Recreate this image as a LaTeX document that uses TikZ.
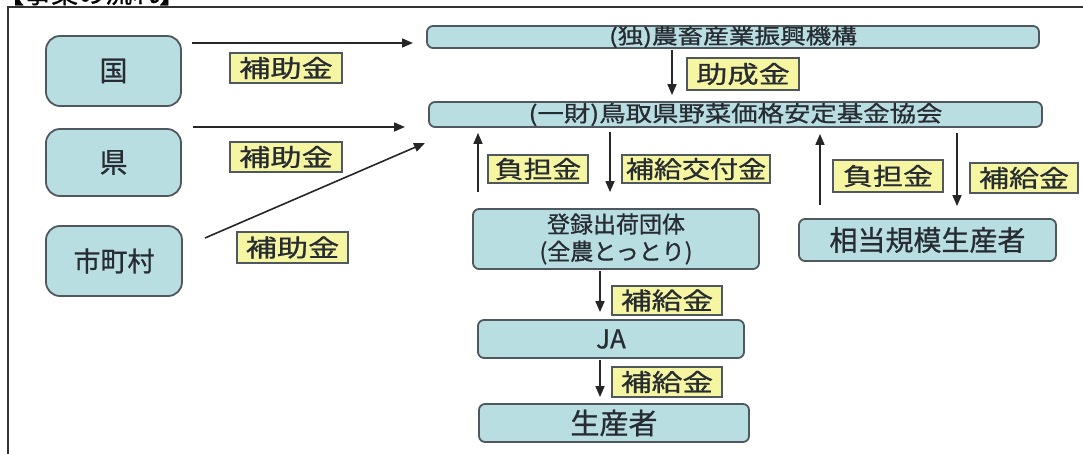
\documentclass[tikz,border=0pt]{standalone}
\usepackage{fontspec}
\usepackage{graphicx}
\newfontfamily\jp[FakeBold=0.8]{Noto Sans CJK JP}
\usetikzlibrary{arrows.meta}
\definecolor{boxfill}{RGB}{184,222,226}
\definecolor{boxline}{RGB}{78,88,94}
\definecolor{labfill}{RGB}{246,246,162}
\definecolor{txt}{RGB}{38,44,50}
\newcommand\fs[1]{\fontsize{#1}{#1}\selectfont}
\newcommand\sx[2]{\scalebox{#1}[1]{#2}}
\begin{document}
\begin{tikzpicture}[x=1pt,y=-1pt,
  box/.style={draw=boxline,line width=1.8pt,fill=boxfill,rounded corners=6pt,inner sep=0pt,text=txt,font=\jp},
  bigbox/.style={box,rounded corners=14pt},
  lab/.style={draw=boxline,line width=1.2pt,fill=labfill,inner sep=0pt,text=txt,font=\jp\fs{24}},
  arr/.style={line width=1.6pt,draw=black!85,-{Triangle[length=11pt,width=9pt]}}]
\useasboundingbox (0,0) rectangle (1083,454);
\clip (0,0) rectangle (1083,454);
% title (cut off at the top, as in the reference) and frame
\node[anchor=base west,inner sep=0pt,font=\jp\fs{27},text=black] (title) at (-3,3) {【事業の流れ】};
\draw[line width=2.5pt,black!80] (8,454) -- (8,7) -- (1083,7);
% boxes
\node[bigbox,minimum width=135pt,minimum height=70pt] (kuni) at (113.5,71) {\fs{28}国};
\node[bigbox,minimum width=135pt,minimum height=67pt] (ken) at (113.5,162.5) {\fs{28}県};
\node[bigbox,minimum width=136pt,minimum height=70pt] (shi) at (114,261) {\fs{27}市町村};
\node[box,minimum width=612pt,minimum height=22pt] (dok) at (733,37) {\fs{21}\sx{1.22}{(独)農畜産業振興機構}};
\node[box,minimum width=613pt,minimum height=25pt] (ichi) at (735.5,114.5) {\fs{22}\sx{1.2}{(一財)鳥取県野菜価格安定基金協会}};
\node[box,minimum width=286pt,minimum height=60pt,align=center] (toroku) at (616,239) {\fs{23}登録出荷団体\\[5pt]\fs{23}(全農とっとり)};
\node[box,minimum width=257pt,minimum height=42pt] (soto) at (927.5,240) {\fs{28}相当規模生産者};
\node[box,minimum width=266pt,minimum height=38pt] (ja) at (611,339) {\fs{26}JA};
\node[box,minimum width=270pt,minimum height=38pt] (seisan) at (614,423) {\fs{29}生産者};
% labels
\node[lab,minimum width=112pt,minimum height=30pt] (l1) at (286,68) {\sx{1.3}{補助金}};
\node[lab,minimum width=112pt,minimum height=30pt] (l2) at (286,157) {\sx{1.3}{補助金}};
\node[lab,minimum width=111pt,minimum height=31pt] (l3) at (292.5,247.5) {\sx{1.3}{補助金}};
\node[lab,minimum width=112pt,minimum height=32pt] (l4) at (743,74) {\sx{1.3}{助成金}};
\node[lab,minimum width=100pt,minimum height=28pt] (l5) at (538,169) {\sx{1.2}{負担金}};
\node[lab,minimum width=148pt,minimum height=28pt] (l6) at (696,169) {\sx{1.17}{補給交付金}};
\node[lab,minimum width=110pt,minimum height=32pt] (l7) at (888,176) {\sx{1.25}{負担金}};
\node[lab,minimum width=108pt,minimum height=30pt] (l8) at (1024,178) {\sx{1.25}{補給金}};
\node[lab,minimum width=110pt,minimum height=29pt] (l9) at (667,300.5) {\sx{1.28}{補給金}};
\node[lab,minimum width=110pt,minimum height=30pt] (l10) at (667,382) {\sx{1.28}{補給金}};
% free ends of the arrows from the left
\coordinate (a1s) at (192,43);  \coordinate (a1e) at (413,43);
\coordinate (a2s) at (193,127); \coordinate (a2e) at (405,127);
\coordinate (a3s) at (205,238); \coordinate (a3e) at (425,143);
\draw[arr] (a1s) -- (a1e);
\draw[arr] (a2s) -- (a2e);
\draw[arr] (a3s) -- (a3e);
% vertical arrows
\coordinate (c672) at (672,0);
\coordinate (c478) at (478,0);
\coordinate (c610) at (610,0);
\coordinate (c820) at (820,0);
\coordinate (c957) at (957,0);
\coordinate (c600) at (600,0);
\draw[arr,shorten <=1pt,shorten >=6pt] (dok.south -| c672) -- (ichi.north -| c672);
\draw[arr,shorten <=16pt,shorten >=5pt] (toroku.north -| c478) -- (ichi.south -| c478);
\draw[arr,shorten <=4pt,shorten >=16pt] (ichi.south -| c610) -- (toroku.north -| c610);
\draw[arr,shorten <=13pt,shorten >=6pt] (soto.north -| c820) -- (ichi.south -| c820);
\draw[arr,shorten <=5pt,shorten >=12pt] (ichi.south -| c957) -- (soto.north -| c957);
\draw[arr,shorten <=1pt,shorten >=7pt] (toroku.south -| c600) -- (ja.north -| c600);
\draw[arr,shorten <=1pt,shorten >=6pt] (ja.south -| c600) -- (seisan.north -| c600);
\end{tikzpicture}
\end{document}
